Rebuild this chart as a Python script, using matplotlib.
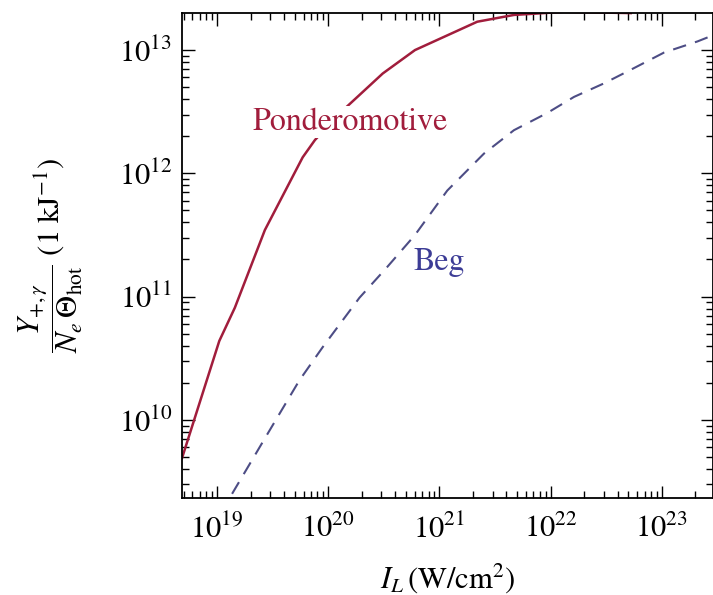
import numpy as np
import matplotlib
matplotlib.use("Agg")
import matplotlib.pyplot as plt
from matplotlib.ticker import LogLocator, NullFormatter

plt.rcParams["mathtext.fontset"] = "stix"
plt.rcParams["font.family"] = ["STIXGeneral", "Liberation Serif", "DejaVu Serif"]

# log10 of intensity (W/cm^2) and log10 of yield
pond_logI = [18.685, 19.02, 19.16, 19.43, 19.77, 19.88, 20.13, 20.49, 20.78, 21.34, 21.67, 22.12, 22.72]
pond_logY = [9.69, 10.64, 10.91, 11.54, 12.13, 12.27, 12.51, 12.81, 13.00, 13.23, 13.285, 13.31, 13.30]

beg_logI = [19.135, 19.43, 19.74, 19.95, 20.28, 20.53, 20.78, 21.07, 21.40, 21.67, 21.97,
            22.21, 22.48, 22.72, 23.02, 23.32, 23.46]
beg_logY = [9.40, 9.85, 10.32, 10.59, 10.99, 11.24, 11.50, 11.86, 12.16, 12.35, 12.49,
            12.62, 12.73, 12.84, 12.98, 13.07, 13.12]

xticks = [1e19, 1e20, 1e21, 1e22, 1e23]
yticks = [1e10, 1e11, 1e12, 1e13]

red = "#a11d3c"
blue = "#4d4d85"

fig = plt.figure(figsize=(7.13, 5.95), dpi=100)
ax = fig.add_axes([0.2553, 0.163, 0.7447, 0.815])

ax.plot(10**np.array(pond_logI), 10**np.array(pond_logY), color=red, lw=1.8, solid_joinstyle="miter")
ax.plot(10**np.array(beg_logI), 10**np.array(beg_logY), color=blue, lw=1.5, dashes=(6.5, 4.5))

ax.set_xscale("log")
ax.set_yscale("log")
ax.set_xlim(10**18.685, 10**23.46)
ax.set_ylim(10**9.366, 10**13.30)

ax.set_xticks(xticks)
ax.set_yticks(yticks)
ax.set_xticklabels([r"$10^{%d}$" % int(round(np.log10(v))) for v in xticks])
ax.set_yticklabels([r"$10^{%d}$" % int(round(np.log10(v))) for v in yticks])
ax.xaxis.set_minor_locator(LogLocator(base=10, subs=np.arange(2, 10), numticks=20))
ax.yaxis.set_minor_locator(LogLocator(base=10, subs=np.arange(2, 10), numticks=20))
ax.xaxis.set_minor_formatter(NullFormatter())
ax.yaxis.set_minor_formatter(NullFormatter())

ax.tick_params(which="both", direction="in", top=True, right=True, labelsize=22, width=1.0)
ax.tick_params(which="major", length=9)
ax.tick_params(which="minor", length=5)
ax.tick_params(axis="x", which="major", pad=12)
ax.tick_params(axis="y", which="major", pad=7)
for s in ax.spines.values():
    s.set_linewidth(1.3)

ax.text(10**20.2, 10**12.415, "Ponderomotive", color=red, fontsize=23, ha="center", va="center",
        bbox=dict(facecolor="white", edgecolor="none", pad=1))
ax.text(10**21.0, 10**11.28, "Beg", color="#3c3c96", fontsize=23, ha="center", va="center")

ax.set_xlabel(r"$I_L\,(\mathrm{W/cm^2})$", fontsize=22, labelpad=12)
ax.set_ylabel(r"$\dfrac{Y_{+,\gamma}}{N_e\,\Theta_{\mathrm{hot}}}\ (1\ \mathrm{kJ}^{-1})$", fontsize=22, labelpad=24)

fig.savefig("out.png", dpi=100)
